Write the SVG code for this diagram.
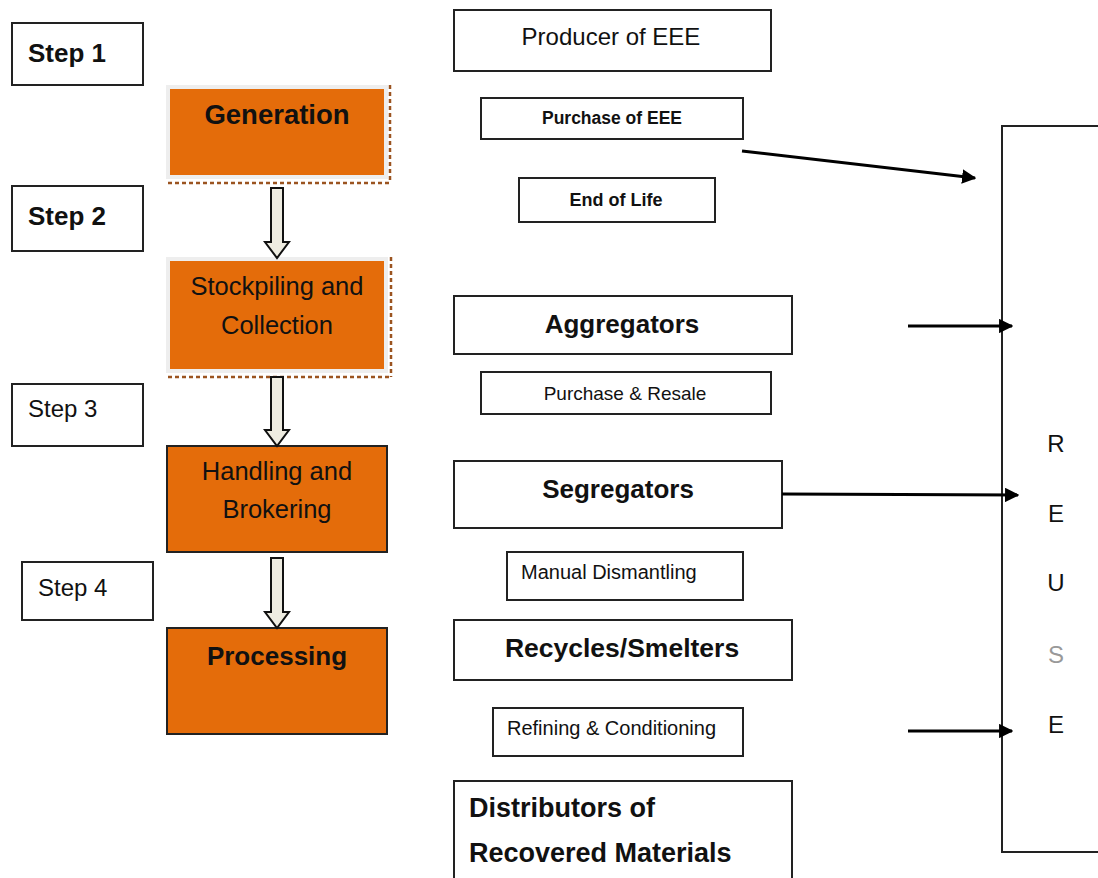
<svg xmlns="http://www.w3.org/2000/svg" width="1098" height="878" viewBox="0 0 1098 878">
<defs>
<marker id="ah" viewBox="0 0 10 10" refX="9" refY="5" markerWidth="4.8" markerHeight="4.8" orient="auto" markerUnits="strokeWidth">
<path d="M0,0 L10,5 L0,10 Z" fill="#000"/>
</marker>
</defs>
<style>
text{font-family:"Liberation Sans",Arial,sans-serif;fill:#111}
.box{fill:#fff;stroke:#222;stroke-width:2}
.org{fill:#E46C0A}
.orgs{fill:#E46C0A;stroke:#222;stroke-width:2}
.halo{fill:none;stroke:#eeeeee;stroke-width:4}
.dot{fill:none;stroke:#9B5420;stroke-width:2.5;stroke-dasharray:4 3}
.blk{fill:#EEECE1;stroke:#111;stroke-width:2}
.conn{fill:none;stroke:#000;stroke-width:3;marker-end:url(#ah)}
.b{font-weight:bold}
.c{text-anchor:middle}
</style>
<rect width="1098" height="878" fill="#fff"/>

<g id="step1"><rect class="box" x="12" y="23" width="131" height="62"/><text class="b" x="28" y="62" font-size="26">Step 1</text></g>
<g id="step2"><rect class="box" x="12" y="186" width="131" height="65"/><text class="b" x="28" y="225" font-size="26">Step 2</text></g>
<g id="step3"><rect class="box" x="12" y="384" width="131" height="62"/><text x="28" y="417" font-size="24">Step 3</text></g>
<g id="step4"><rect class="box" x="22" y="562" width="131" height="58"/><text x="38" y="596" font-size="24">Step 4</text></g>

<g id="generation">
<rect class="halo" x="168" y="87" width="218" height="90"/>
<rect class="org" x="170" y="89" width="214" height="86"/>
<path class="dot" d="M390,85 V183 M168,183 H390"/>
<text class="b c" x="277" y="124" font-size="27.5">Generation</text>
</g>
<g id="stockpiling">
<rect class="halo" x="168" y="259" width="218" height="112"/>
<rect class="org" x="170" y="261" width="214" height="108"/>
<path class="dot" d="M391,257 V377 M168,377 H391"/>
<text class="c" x="277" y="295" font-size="25.5">Stockpiling and</text>
<text class="c" x="277" y="334" font-size="25.5">Collection</text>
</g>
<g id="handling">
<rect class="orgs" x="167" y="446" width="220" height="106"/>
<text class="c" x="277" y="480" font-size="25.5">Handling and</text>
<text class="c" x="277" y="518" font-size="25.5">Brokering</text>
</g>
<g id="processing">
<rect class="orgs" x="167" y="628" width="220" height="106"/>
<text class="b c" x="277" y="665" font-size="26">Processing</text>
</g>

<g id="block-arrows">
<path class="blk" d="M271,188 H283 V242 H289 L277,258 L265,242 H271 Z"/>
<path class="blk" d="M271,377 H283 V430 H289 L277,446 L265,430 H271 Z"/>
<path class="blk" d="M271,558 H283 V612 H289 L277,628 L265,612 H271 Z"/>
</g>

<g id="producer"><rect class="box" x="454" y="10" width="317" height="61"/><text class="c" x="611" y="45" font-size="24">Producer of EEE</text></g>
<g id="purchase-eee"><rect class="box" x="481" y="98" width="262" height="41"/><text class="b c" x="612" y="124" font-size="17.5">Purchase of EEE</text></g>
<g id="end-of-life"><rect class="box" x="519" y="178" width="196" height="44"/><text class="b c" x="616" y="206" font-size="18">End of Life</text></g>
<g id="aggregators"><rect class="box" x="454" y="296" width="338" height="58"/><text class="b c" x="622" y="333" font-size="26">Aggregators</text></g>
<g id="purchase-resale"><rect class="box" x="481" y="372" width="290" height="42"/><text class="c" x="625" y="400" font-size="19">Purchase &amp; Resale</text></g>
<g id="segregators"><rect class="box" x="454" y="461" width="328" height="67"/><text class="b c" x="618" y="498" font-size="26">Segregators</text></g>
<g id="manual"><rect class="box" x="507" y="552" width="236" height="48"/><text x="521" y="579" font-size="20">Manual Dismantling</text></g>
<g id="recycles"><rect class="box" x="454" y="620" width="338" height="60"/><text class="b c" x="622" y="657" font-size="26.5">Recycles/Smelters</text></g>
<g id="refining"><rect class="box" x="493" y="708" width="250" height="48"/><text x="507" y="735" font-size="20">Refining &amp; Conditioning</text></g>
<g id="distributors"><rect class="box" x="454" y="781" width="338" height="110"/>
<text class="b" x="469" y="817" font-size="27">Distributors of</text>
<text class="b" x="469" y="862" font-size="27">Recovered Materials</text></g>

<g id="reuse">
<rect class="box" x="1002" y="126" width="120" height="726"/>
<text class="c" x="1056" y="452" font-size="24">R</text>
<text class="c" x="1056" y="522" font-size="24">E</text>
<text class="c" x="1056" y="591" font-size="24">U</text>
<text class="c" x="1056" y="663" font-size="24" style="fill:#999">S</text>
<text class="c" x="1056" y="733" font-size="24">E</text>
</g>

<g id="connectors">
<line class="conn" x1="742" y1="151" x2="975" y2="178"/>
<line class="conn" x1="908" y1="326" x2="1012" y2="326"/>
<line class="conn" x1="782" y1="494" x2="1018" y2="495"/>
<line class="conn" x1="908" y1="731" x2="1012" y2="731"/>
</g>
</svg>
